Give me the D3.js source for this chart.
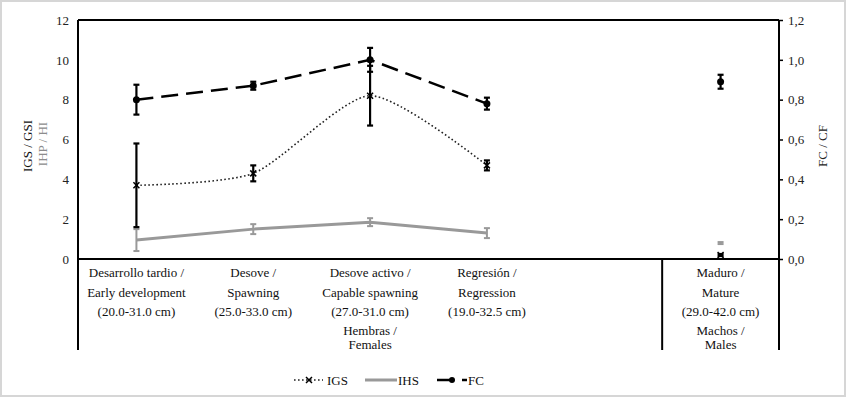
<!DOCTYPE html>
<html>
<head>
<meta charset="utf-8">
<script src="https://cdn.jsdelivr.net/npm/d3@7"></script>
<style>
  body { margin: 0; background: #fff; }
</style>
</head>
<body>
<div id="chart"></div>
<script>
// categories (one empty slot separates females from males)
const categories = ["dt", "de", "da", "re", "gap", "ma"];
const catLine1 = ["Desarrollo tardio /", "Desove /", "Desove activo /", "Regresión /", "", "Maduro /"];
const catLine2 = ["Early development", "Spawning", "Capable spawning", "Regression", "", "Mature"];
const catLine3 = ["(20.0-31.0 cm)", "(25.0-33.0 cm)", "(27.0-31.0 cm)", "(19.0-32.5 cm)", "", "(29.0-42.0 cm)"];
const groups = [
  { label: ["Hembras /", "Females"], cat: "da" },
  { label: ["Machos /", "Males"], cat: "ma" }
];

// series (left axis: IGS, IHS; right axis: FC)
const igs    = [3.7, 4.3, 8.2, 4.7, null, 0.2];
const igsErr = [2.1, 0.4, 1.5, 0.25, null, 0.05];
const ihs    = [0.95, 1.5, 1.85, 1.3, null, 0.8];
const ihsErr = [0.55, 0.25, 0.2, 0.25, null, 0.05];
const fc     = [0.80, 0.87, 1.00, 0.78, null, 0.89];
const fcErr  = [0.075, 0.02, 0.06, 0.03, null, 0.035];

const leftTicks = [0, 2, 4, 6, 8, 10, 12];
const rightTicks = [0, 0.2, 0.4, 0.6, 0.8, 1.0, 1.2];
const femaleCount = 4;

const FONT = "'Liberation Serif', 'Times New Roman', serif";
const width = 846, height = 397;
const margin = { top: 20, right: 67, bottom: 138, left: 78 };
const plotBottom = height - margin.bottom;
const frameBottom = 350;

const svg = d3.select("#chart").append("svg")
  .attr("width", width)
  .attr("height", height)
  .attr("font-family", FONT);

svg.append("rect")
  .attr("x", 1).attr("y", 1)
  .attr("width", width - 2).attr("height", height - 2)
  .attr("fill", "#fff")
  .attr("stroke", "#d6d6d6")
  .attr("stroke-width", 2);

const x = d3.scaleBand()
  .domain(categories)
  .range([margin.left, width - margin.right])
  .padding(0);

const y = d3.scaleLinear().domain([0, 12]).range([plotBottom, margin.top]);
const yR = d3.scaleLinear().domain([0, 1.2]).range([plotBottom, margin.top]);

const cx = (i) => x(categories[i]) + x.bandwidth() / 2;

// axes
const leftAxis = svg.append("g")
  .attr("transform", `translate(${margin.left},0)`)
  .call(d3.axisLeft(y).tickValues(leftTicks).tickSize(0).tickPadding(9).tickFormat(d3.format("d")));
leftAxis.select(".domain").remove();

const rightAxis = svg.append("g")
  .attr("transform", `translate(${width - margin.right},0)`)
  .call(d3.axisRight(yR).tickValues(rightTicks).tickSize(4).tickPadding(5)
    .tickFormat((d) => d3.format(".1f")(d).replace(".", ",")));
rightAxis.select(".domain").remove();
rightAxis.selectAll("line").attr("stroke", "#000").attr("stroke-width", 1.5);

svg.selectAll("g").attr("font-family", FONT);
svg.selectAll(".tick text")
  .attr("font-size", 13)
  .attr("fill", "#222");

// frame
const frame = svg.append("g").attr("stroke", "#000").attr("stroke-width", 2).attr("fill", "none");
frame.append("line").attr("x1", margin.left).attr("x2", width - margin.right).attr("y1", margin.top).attr("y2", margin.top);
frame.append("line").attr("x1", margin.left).attr("x2", width - margin.right).attr("y1", plotBottom).attr("y2", plotBottom);
frame.append("line").attr("x1", margin.left).attr("x2", margin.left).attr("y1", margin.top).attr("y2", frameBottom);
frame.append("line").attr("x1", width - margin.right).attr("x2", width - margin.right).attr("y1", margin.top).attr("y2", frameBottom);
frame.append("line").attr("x1", x("ma")).attr("x2", x("ma")).attr("y1", plotBottom).attr("y2", frameBottom);

// axis titles
svg.append("text")
  .attr("transform", "translate(32,146) rotate(-90)")
  .attr("text-anchor", "middle")
  .attr("font-size", 13)
  .attr("fill", "#111")
  .text("IGS / GSI");
svg.append("text")
  .attr("transform", "translate(47,144) rotate(-90)")
  .attr("text-anchor", "middle")
  .attr("font-size", 13)
  .attr("fill", "#8c8c8c")
  .text("IHP / HI");
svg.append("text")
  .attr("transform", "translate(827,146) rotate(-90)")
  .attr("text-anchor", "middle")
  .attr("font-size", 13)
  .attr("fill", "#222")
  .text("FC / CF");

// category labels
const catText = svg.append("g").attr("font-size", 13).attr("fill", "#111").attr("text-anchor", "middle");
[catLine1, catLine2, catLine3].forEach((lines, k) => {
  catText.selectAll(`.cat-${k}`)
    .data(categories)
    .join("text")
    .attr("class", `cat-${k}`)
    .attr("x", (d) => x(d) + x.bandwidth() / 2)
    .attr("y", 277 + k * 19.5)
    .text((d, i) => lines[i]);
});
groups.forEach((g) => {
  g.label.forEach((t, k) => {
    catText.append("text")
      .attr("x", x(g.cat) + x.bandwidth() / 2)
      .attr("y", 335 + k * 14)
      .text(t);
  });
});

// helpers
const idx = d3.range(categories.length).filter((i) => igs[i] !== null);
const females = d3.range(femaleCount);

function errorBars(values, errs, scale, color, width) {
  const g = svg.append("g").attr("stroke", color).attr("stroke-width", width);
  idx.forEach((i) => {
    const x0 = cx(i);
    const lo = scale(values[i] - errs[i]);
    const hi = scale(values[i] + errs[i]);
    g.append("line").attr("x1", x0).attr("x2", x0).attr("y1", lo).attr("y2", hi);
    g.append("line").attr("x1", x0 - 3).attr("x2", x0 + 3).attr("y1", lo).attr("y2", lo);
    g.append("line").attr("x1", x0 - 3).attr("x2", x0 + 3).attr("y1", hi).attr("y2", hi);
  });
}

// IHS (grey solid)
svg.append("path")
  .datum(females)
  .attr("fill", "none")
  .attr("stroke", "#999")
  .attr("stroke-width", 3)
  .attr("d", d3.line().x((i) => cx(i)).y((i) => y(ihs[i])));
errorBars(ihs, ihsErr, y, "#999", 2);

// IGS (dotted smooth)
svg.append("path")
  .datum(females)
  .attr("fill", "none")
  .attr("stroke", "#222")
  .attr("stroke-width", 1.6)
  .attr("stroke-dasharray", "1.6,2.4")
  .attr("d", d3.line().curve(d3.curveCardinal.tension(0.3)).x((i) => cx(i)).y((i) => y(igs[i])));
errorBars(igs, igsErr, y, "#000", 2.2);
svg.append("g").attr("stroke", "#000").attr("stroke-width", 1.5)
  .selectAll("path")
  .data(idx)
  .join("path")
  .attr("d", (i) => {
    const px = cx(i), py = y(igs[i]);
    return `M${px - 3},${py - 3}L${px + 3},${py + 3}M${px + 3},${py - 3}L${px - 3},${py + 3}`;
  });

// FC (dashed, right axis)
svg.append("path")
  .datum(females)
  .attr("fill", "none")
  .attr("stroke", "#000")
  .attr("stroke-width", 2.5)
  .attr("stroke-dasharray", "17,8")
  .attr("d", d3.line().x((i) => cx(i)).y((i) => yR(fc[i])));
errorBars(fc, fcErr, yR, "#000", 2.2);
svg.append("g")
  .selectAll("circle")
  .data(idx)
  .join("circle")
  .attr("cx", (i) => cx(i))
  .attr("cy", (i) => yR(fc[i]))
  .attr("r", 3.5)
  .attr("fill", "#000");

// legend
const lg = svg.append("g").attr("font-size", 13).attr("fill", "#111");
const ly = 380;
lg.append("line").attr("x1", 294).attr("x2", 323).attr("y1", ly).attr("y2", ly)
  .attr("stroke", "#222").attr("stroke-width", 1.6).attr("stroke-dasharray", "1.6,2.4");
lg.append("path").attr("d", `M306,${ly - 3}L312,${ly + 3}M312,${ly - 3}L306,${ly + 3}`)
  .attr("stroke", "#000").attr("stroke-width", 1.5);
lg.append("text").attr("x", 327).attr("y", ly + 4.5).text("IGS");
lg.append("line").attr("x1", 365).attr("x2", 397).attr("y1", ly).attr("y2", ly)
  .attr("stroke", "#999").attr("stroke-width", 3);
lg.append("text").attr("x", 398).attr("y", ly + 4.5).text("IHS");
lg.append("line").attr("x1", 437).attr("x2", 452).attr("y1", ly).attr("y2", ly)
  .attr("stroke", "#000").attr("stroke-width", 2.5);
lg.append("circle").attr("cx", 452).attr("cy", ly).attr("r", 3).attr("fill", "#000");
lg.append("line").attr("x1", 462).attr("x2", 467).attr("y1", ly).attr("y2", ly)
  .attr("stroke", "#000").attr("stroke-width", 2.5);
lg.append("text").attr("x", 468).attr("y", ly + 4.5).text("FC");
</script>
</body>
</html>
